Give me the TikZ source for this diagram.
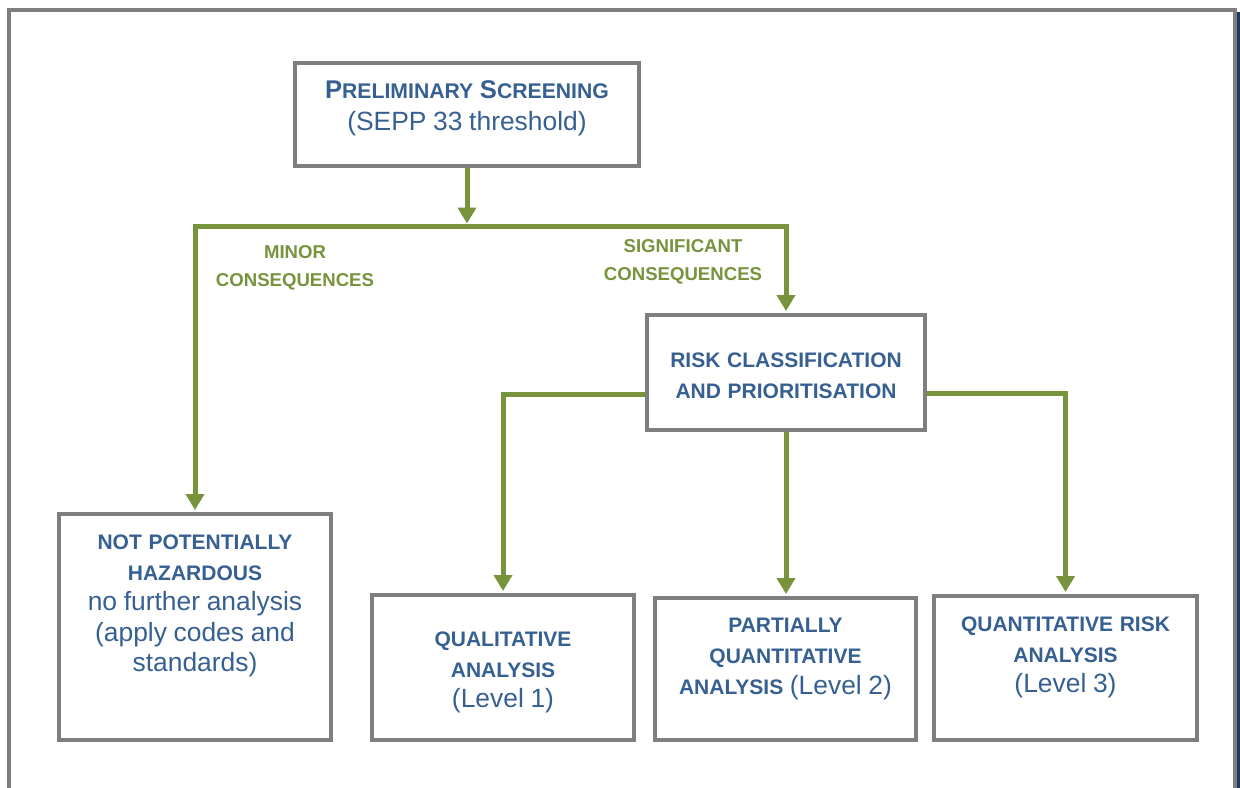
\documentclass[tikz,border=0pt]{standalone}
\usepackage{fontspec}
\setmainfont{Liberation Sans}
\usetikzlibrary{arrows.meta,positioning}

\definecolor{boxgray}{HTML}{7F7F7F}
\definecolor{txtblue}{HTML}{366092}
\definecolor{lnkgreen}{HTML}{77933C}
\definecolor{edgenavy}{HTML}{1F3A5F}

\newcommand\bt{\fontsize{10.5}{15.3}\selectfont\bfseries}
\newcommand\rt{\fontsize{13.2}{15.3}\selectfont\mdseries}
\newcommand\fakesc[2]{{\fontsize{12.8}{16}\selectfont #1}{\fontsize{10.6}{16}\selectfont #2}}
\newcommand\padbot[1]{\par\nointerlineskip\vbox to #1{}}

\begin{document}
\begin{tikzpicture}[
  x=0.5pt,y=-0.5pt,
  >={Triangle[width=9pt,length=8pt]},
  bx/.style={draw=boxgray,line width=2pt,fill=white,align=center,inner sep=0pt,text=txtblue},
  lbl/.style={text=lnkgreen,font=\fontsize{9.3}{14}\selectfont\bfseries,align=center},
  ar/.style={->,draw=lnkgreen,line width=2.5pt,shorten >=1pt},
  frame/.style={draw=boxgray,line width=2pt}
]
\useasboundingbox (0,0) rectangle (1240,787);
\fill[white] (0,0) rectangle (1240,787);

% ---- page frame ----
\draw[frame] (9.3,800) -- (9.3,10.3) -- (1235,10.3) -- (1235,800);
\fill[edgenavy] (1237,12) rectangle (1242,800);

% ---- screening ----
\node[bx,text width=172pt,minimum height=51.5pt] (prelim) at (467,114.5)
  {\bfseries\fakesc{P}{RELIMINARY} \fakesc{S}{CREENING}\\[0.7pt] \rt (SEPP 33 threshold)\padbot{6pt}};
\coordinate (fork) at (467,226);

\node[lbl] (minor) at (295,268) {MINOR\\ CONSEQUENCES};
\node[lbl] (signif) at (683,262) {SIGNIFICANT\\ CONSEQUENCES};

% ---- outcomes ----
\node[bx,text width=136pt,minimum height=113pt] (nph) at (195,627)
  {\bt NOT POTENTIALLY\\ HAZARDOUS\\ \rt no further analysis\\ (apply codes and\\ standards)\padbot{21pt}};
\node[bx,text width=139pt,minimum height=57.5pt] (rc) at (786,372.5)
  {\bt RISK CLASSIFICATION\\ AND PRIORITISATION\padbot{-3pt}};

% ---- analysis levels ----
\node[bx,text width=131pt,minimum height=72.5pt] (q) at (503,667.5)
  {\bt QUALITATIVE\\ ANALYSIS\\ \rt (Level 1)\padbot{-5pt}};
\node[bx,text width=130.5pt,minimum height=71pt] (pq) at (785.5,669)
  {\bt PARTIALLY\\ QUANTITATIVE\\ ANALYSIS {\rt (Level 2)}\padbot{10pt}};
\node[bx,text width=131.5pt,minimum height=72pt] (qr) at (1065.5,668)
  {\bt QUANTITATIVE RISK\\ ANALYSIS\\ \rt (Level 3)\padbot{10.5pt}};

% wires
\draw[ar,shorten >=1.25pt] (prelim.south) -- (fork);
\draw[ar] (fork) -| (nph.north);
\draw[ar] (fork) -| (rc.north);
\draw[ar] ([yshift=-10.75pt]rc.west) -| (q.north);
\draw[ar] (rc.south) -- (rc.south |- pq.north);
\draw[ar] ([yshift=-10.25pt]rc.east) -| (qr.north);
\end{tikzpicture}
\end{document}
